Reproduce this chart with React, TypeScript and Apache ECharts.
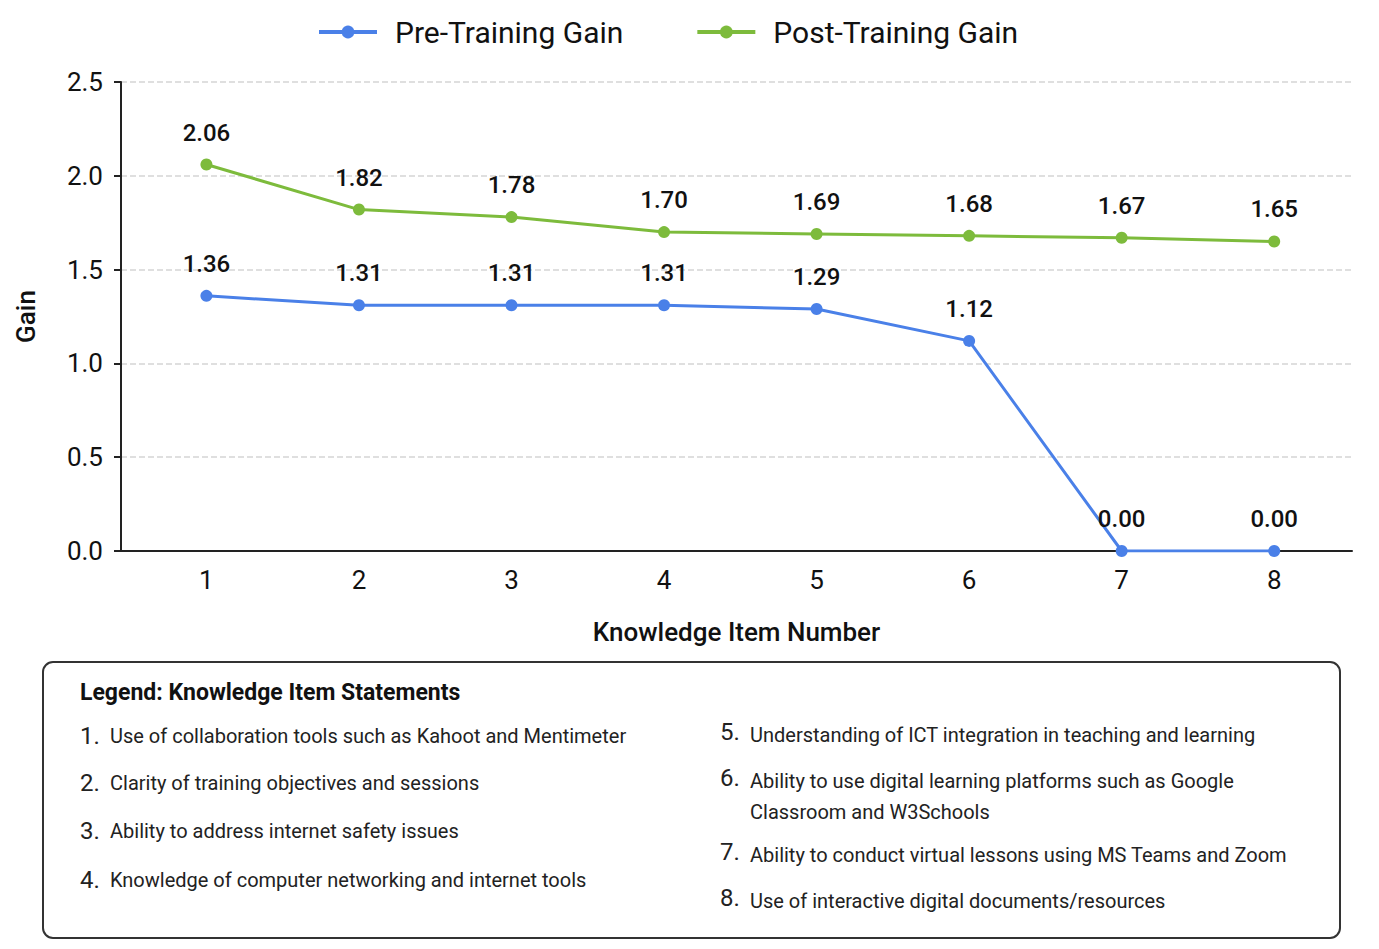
import React, { useEffect, useRef } from "react";
import * as echarts from "echarts";

const itemNumbers = [1, 2, 3, 4, 5, 6, 7, 8];
const preTrainingGain = [1.36, 1.31, 1.31, 1.31, 1.29, 1.12, 0.0, 0.0];
const postTrainingGain = [2.06, 1.82, 1.78, 1.7, 1.69, 1.68, 1.67, 1.65];
const seriesNames = ["Pre-Training Gain", "Post-Training Gain"];
const legendTitle = "Legend: Knowledge Item Statements";
const leftStatements = [
  "Use of collaboration tools such as Kahoot and Mentimeter",
  "Clarity of training objectives and sessions",
  "Ability to address internet safety issues",
  "Knowledge of computer networking and internet tools",
];
const rightStatements = [
  "Understanding of ICT integration in teaching and learning",
  "Ability to use digital learning platforms such as Google\nClassroom and W3Schools",
  "Ability to conduct virtual lessons using MS Teams and Zoom",
  "Use of interactive digital documents/resources",
];

const FONT = "Roboto";
const BLUE = "#4a80e8";
const GREEN = "#7dbb3c";

export default function App() {
  const ref = useRef<HTMLDivElement>(null);
  useEffect(() => {
    if (!ref.current) return;
    const chart = echarts.init(ref.current, null, { renderer: "svg" });

    const leftY = [736, 783, 831, 880];
    const rightY = [732, 778, 852, 898];
    const txt = (x: number, y: number, text: string, size: number, extra: any = {}) => ({
      type: "text",
      x,
      y,
      z: 2,
      style: {
        text,
        fontSize: size,
        fontFamily: FONT,
        fill: "#222",
        verticalAlign: "middle",
        ...extra,
      },
    });
    const graphics: any[] = [
      {
        type: "rect",
        shape: { x: 43, y: 662, width: 1297, height: 276, r: 10 },
        style: { fill: "#fff", stroke: "#333", lineWidth: 2 },
        z: 1,
      },
      txt(80, 692, legendTitle, 23, { fontWeight: "bold", fill: "#111" }),
    ];
    leftStatements.forEach((s, i) => {
      graphics.push(txt(80, leftY[i], `${i + 1}.`, 24));
      graphics.push(txt(110, leftY[i], s, 20));
    });
    rightStatements.forEach((s, i) => {
      graphics.push(txt(720, rightY[i], `${i + 5}.`, 24));
      graphics.push(txt(750, rightY[i] - 13, s, 20, { verticalAlign: "top", lineHeight: 31 }));
    });

    const labelStyle = {
      show: true,
      position: "top",
      distance: 14,
      fontSize: 24,
      fontWeight: 500,
      fontFamily: FONT,
      color: "#111",
      formatter: (p: any) => Number(p.value[1]).toFixed(2),
    };

    chart.setOption({
      animation: false,
      backgroundColor: "#fff",
      textStyle: { fontFamily: FONT },
      legend: {
        top: 12,
        left: 312,
        itemWidth: 58,
        itemHeight: 16,
        itemGap: 72,
        lineStyle: { width: 4 },
        textStyle: { fontSize: 30, fontFamily: FONT, color: "#111", padding: [0, 0, 0, 13] },
        data: seriesNames,
      },
      grid: { left: 121, right: 27, top: 82, bottom: 398 },
      xAxis: {
        type: "value",
        min: 0.44,
        max: 8.51,
        splitNumber: 8,
        name: "Knowledge Item Number",
        nameLocation: "middle",
        nameGap: 68,
        nameTextStyle: { fontSize: 26, fontFamily: FONT, color: "#111", fontWeight: 500 },
        axisLine: { show: true, lineStyle: { color: "#222", width: 2 } },
        axisTick: { show: false },
        splitLine: { show: false },
        axisLabel: {
          fontSize: 26,
          fontFamily: FONT,
          color: "#111",
          margin: 16,
          formatter: (v: number) => (Math.abs(v - Math.round(v)) < 1e-6 ? String(Math.round(v)) : ""),
          showMinLabel: false,
          showMaxLabel: false,
        },
      },
      yAxis: {
        type: "value",
        min: 0,
        max: 2.5,
        interval: 0.5,
        name: "Gain",
        nameLocation: "middle",
        nameGap: 82,
        nameTextStyle: { fontSize: 26, fontFamily: FONT, color: "#111", fontWeight: 500 },
        axisLine: { show: true, lineStyle: { color: "#222", width: 2 } },
        axisTick: { show: true, length: 7, lineStyle: { color: "#222", width: 2 } },
        axisLabel: {
          fontSize: 26,
          fontFamily: FONT,
          color: "#111",
          margin: 18,
          formatter: (v: number) => v.toFixed(1),
        },
        splitLine: { show: true, lineStyle: { color: "#d5d5d5", type: "dashed", width: 1.5 } },
      },
      graphic: graphics,
      series: [
        {
          name: seriesNames[0],
          type: "line",
          data: itemNumbers.map((x, i) => [x, preTrainingGain[i]]),
          symbol: "circle",
          symbolSize: 12,
          lineStyle: { color: BLUE, width: 3 },
          itemStyle: { color: BLUE },
          label: labelStyle,
          z: 3,
        },
        {
          name: seriesNames[1],
          type: "line",
          data: itemNumbers.map((x, i) => [x, postTrainingGain[i]]),
          symbol: "circle",
          symbolSize: 12,
          lineStyle: { color: GREEN, width: 3 },
          itemStyle: { color: GREEN },
          label: labelStyle,
          z: 3,
        },
      ],
    });
    return () => chart.dispose();
  }, []);
  return (
    <div
      ref={ref}
      style={{ position: "fixed", left: 0, top: 0, width: 1379, height: 949 }}
    />
  );
}
